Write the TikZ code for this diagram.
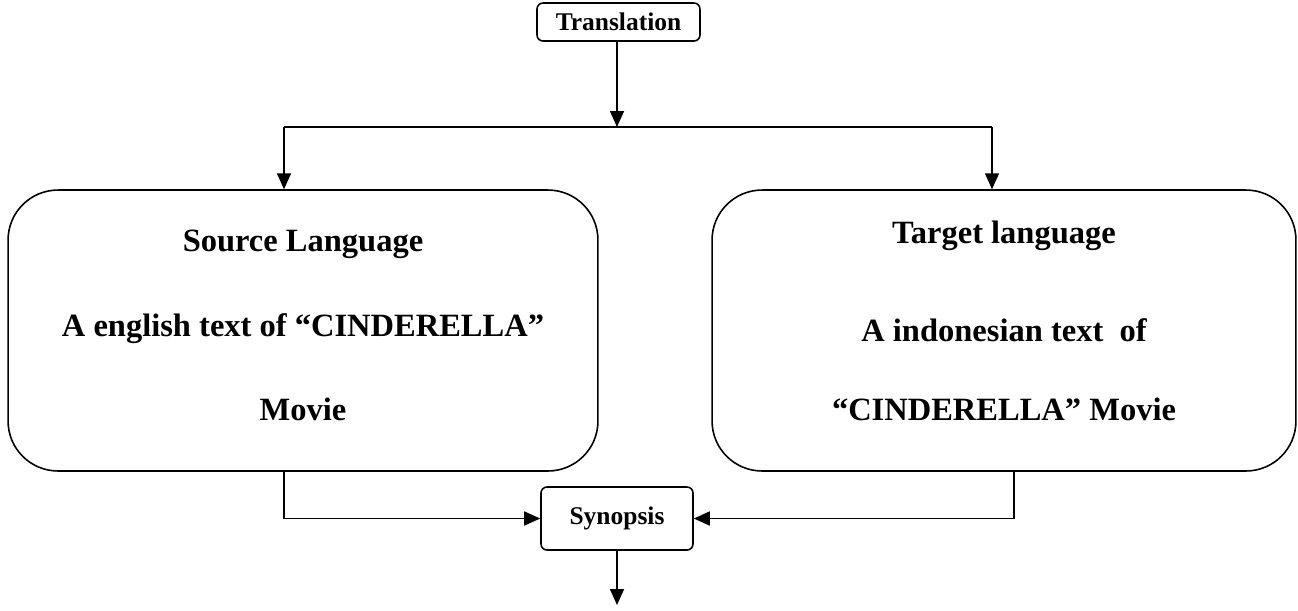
\documentclass[tikz,border=0pt]{standalone}
\usepackage{fontspec}
\setmainfont{Liberation Serif}
\usepackage{tikz}
\usetikzlibrary{positioning, arrows.meta}

\begin{document}
\begin{tikzpicture}[
			x=0.02cm, y=-0.02cm,
			font=\bfseries,
			arr/.style={draw, line width=0.9pt, -{Triangle[width=0.28cm, length=0.32cm]}},
			line/.style={draw, line width=0.9pt},
			smallbox/.style={draw, line width=0.9pt, rounded corners=0.12cm, align=center, inner sep=0pt, font=\bfseries\fontsize{14.5}{17}\selectfont},
			bigbox/.style={draw, line width=0.9pt, rounded corners=1cm, inner sep=0pt, minimum width=11.8cm, minimum height=5.62cm},
			boxtext/.style={align=center, inner sep=0pt, font=\bfseries\fontsize{18.5}{22}\selectfont}]
			
			\useasboundingbox (0,0) rectangle (1298,610);
			
			\node[smallbox, minimum width=3.26cm, minimum height=0.76cm] (trans) at (618.5,22) {Translation};
			\node[bigbox] (src) at (303,330.5) {};
			\node[bigbox, minimum width=11.68cm] (trg) at (1004,330.5) {};
			\node[boxtext] (srcText) at (303,325.5) {Source Language\\[26pt]A english text of ``CINDERELLA''\\[26pt]Movie};
			\node[boxtext] (trgText) at (1004,321) {Target language\\[34pt]A indonesian text~~of\\[23pt]``CINDERELLA'' Movie};
			\node[smallbox, minimum width=3.04cm, minimum height=1.26cm] (syn) at (617,518.5) {Synopsis};
			
			\coordinate (split) at (617,127);
			\coordinate (lft) at (284,127);
			\coordinate (rgt) at (992,127);
			\coordinate (rb) at (1014,471);
			\coordinate (out) at (617,605);
			
			\draw[arr] (trans.south -| split) -- (split);
			\draw[line] (lft) -- (rgt);
			\draw[arr] (lft) -- (lft |- src.north);
			\draw[arr] (rgt) -- (rgt |- trg.north);
			\draw[arr] (lft |- src.south) |- (syn.west);
			\draw[arr] (rb) |- (syn.east);
			\draw[arr] (syn.south) -- (out);
		\end{tikzpicture}
\end{document}
